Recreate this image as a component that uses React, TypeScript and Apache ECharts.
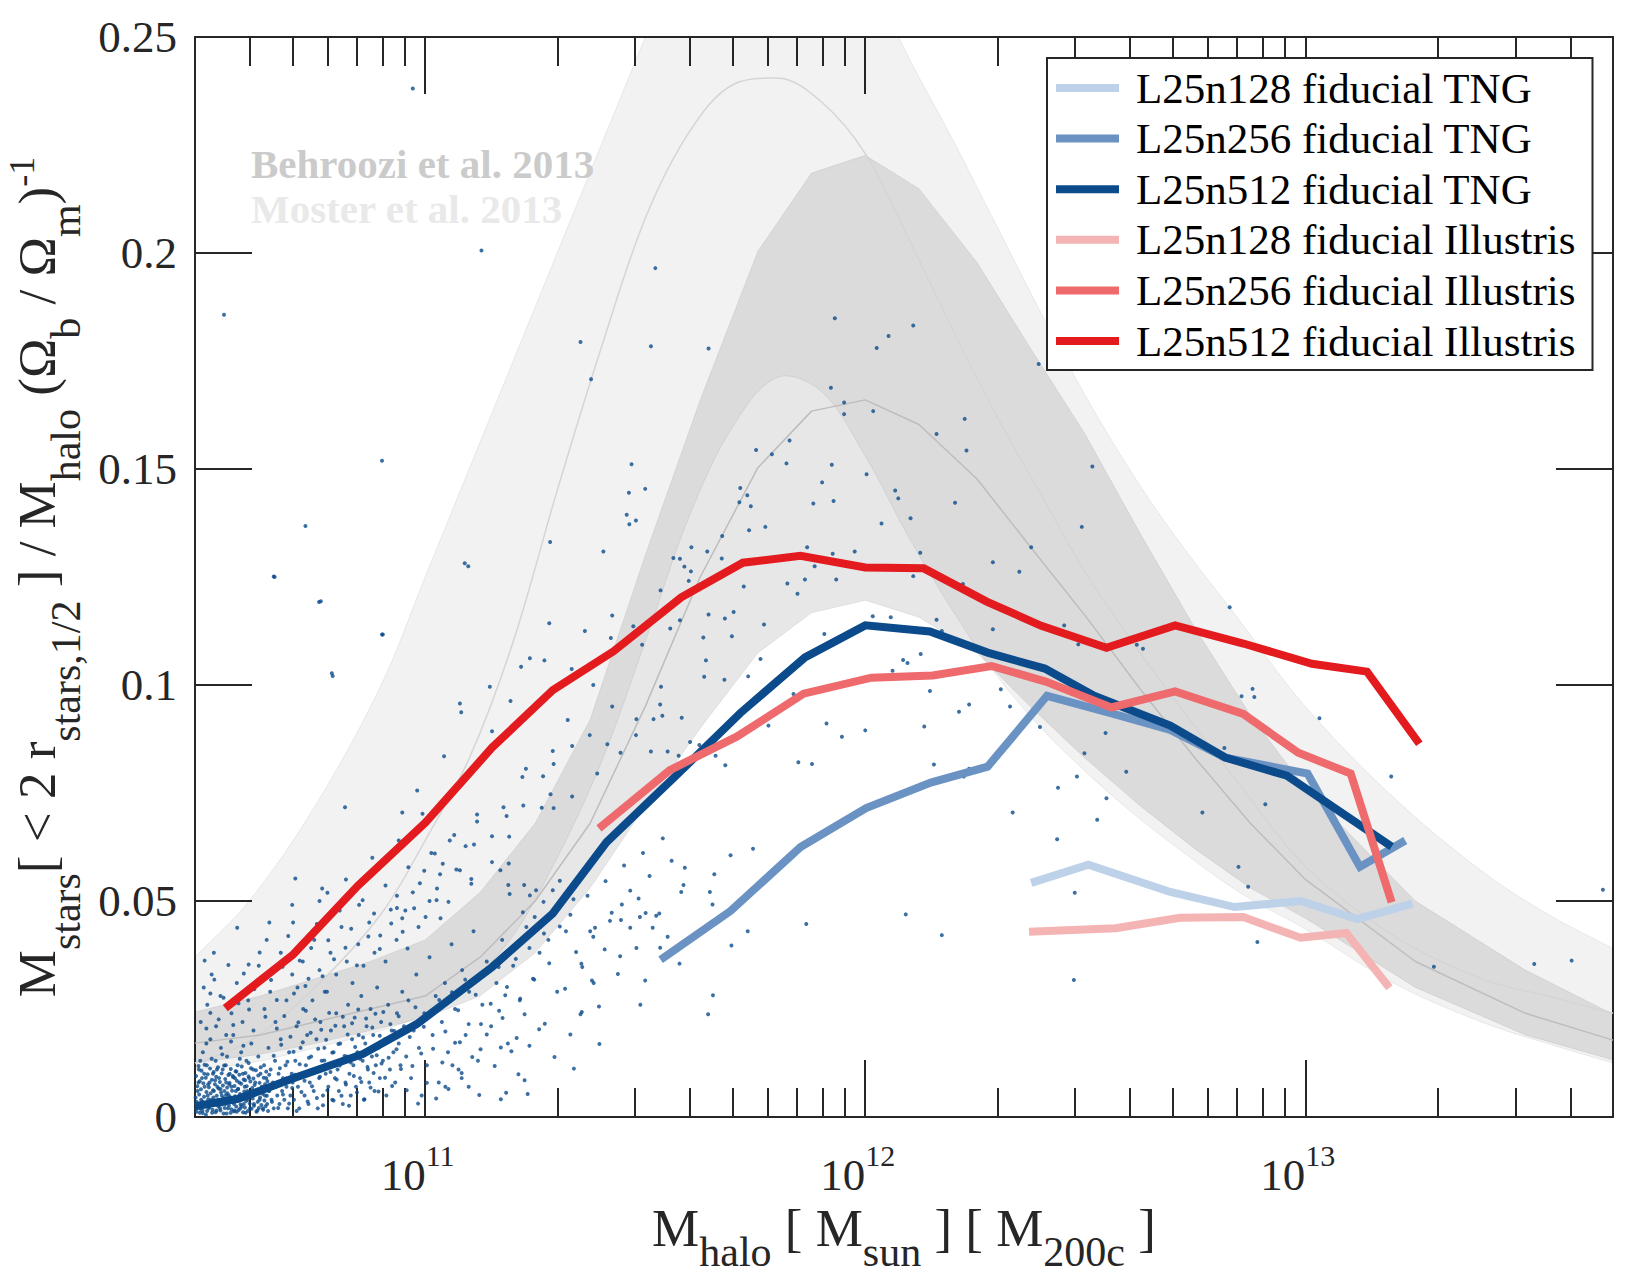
import React, { useEffect, useRef } from "react";
import * as echarts from "echarts";

const FONT = "'Liberation Serif', 'Times New Roman', Times, serif";
const INK = "#262626";

// ---------- axes ----------
const xMin = 3e10;
const xMax = 5e13;
const yMin = 0;
const yMax = 0.25;
const yStep = 0.05;
const xMajorTicks = [1e11, 1e12, 1e13];
const xMinorTicks = [
  4e10, 5e10, 6e10, 7e10, 8e10, 9e10,
  2e11, 3e11, 4e11, 5e11, 6e11, 7e11, 8e11, 9e11,
  2e12, 3e12, 4e12, 5e12, 6e12, 7e12, 8e12, 9e12,
  2e13, 3e13, 4e13,
];

// ---------- Moster et al. 2013 band (x = log10 M_halo) ----------
const mosterLogM = [10.477, 10.6, 10.75, 10.9, 11.0, 11.1, 11.2, 11.3, 11.4, 11.5, 11.6, 11.7, 11.8, 11.9, 12.0, 12.1, 12.2, 12.3, 12.4, 12.5, 12.6, 12.7, 12.85, 13.0, 13.2, 13.4, 13.55, 13.699];
const mosterUpper = [0.037, 0.05, 0.072, 0.1, 0.125, 0.15, 0.175, 0.2, 0.225, 0.25, 0.276, 0.29, 0.294, 0.285, 0.266, 0.245, 0.226, 0.206, 0.186, 0.167, 0.15, 0.135, 0.115, 0.095, 0.074, 0.057, 0.047, 0.039];
const mosterMedian = [0.0125, 0.0175, 0.03, 0.047, 0.064, 0.083, 0.11, 0.145, 0.178, 0.208, 0.228, 0.239, 0.2405, 0.235, 0.223, 0.203, 0.182, 0.162, 0.144, 0.126, 0.111, 0.097, 0.077, 0.058, 0.042, 0.032, 0.028, 0.024];
const mosterLower = [0.011, 0.0125, 0.016, 0.02, 0.024, 0.031, 0.042, 0.06, 0.082, 0.11, 0.139, 0.16, 0.1712, 0.168, 0.153, 0.134, 0.117, 0.102, 0.09, 0.08, 0.071, 0.063, 0.052, 0.0435, 0.031, 0.022, 0.017, 0.0125];

// ---------- Behroozi et al. 2013 band ----------
const behrooziLogM = [10.477, 10.625, 10.75, 10.875, 11.0, 11.125, 11.25, 11.375, 11.5, 11.625, 11.756, 11.878, 12.0, 12.122, 12.254, 12.375, 12.5, 12.625, 12.75, 12.875, 13.0, 13.25, 13.5, 13.699];
const behrooziUpper = [0.0243, 0.028, 0.032, 0.036, 0.041, 0.052, 0.068, 0.092, 0.13, 0.166, 0.2004, 0.2185, 0.2226, 0.2149, 0.1978, 0.178, 0.158, 0.135, 0.113, 0.093, 0.076, 0.05, 0.034, 0.0238];
const behrooziMedian = [0.0171, 0.019, 0.022, 0.025, 0.028, 0.037, 0.05, 0.068, 0.095, 0.125, 0.1503, 0.1634, 0.166, 0.1603, 0.1477, 0.132, 0.116, 0.099, 0.083, 0.068, 0.055, 0.036, 0.024, 0.0178];
const behrooziLower = [0.0125, 0.0145, 0.017, 0.02, 0.023, 0.028, 0.038, 0.053, 0.072, 0.09, 0.1074, 0.1167, 0.1196, 0.1157, 0.1074, 0.095, 0.083, 0.072, 0.062, 0.053, 0.046, 0.03, 0.019, 0.0132];

// ---------- simulation curves ----------
const tng128LogM = [12.377, 12.507, 12.693, 12.839, 12.989, 13.118, 13.243];
const tng128Frac = [0.0542, 0.0584, 0.0521, 0.0486, 0.05, 0.0458, 0.0494];
const tng256LogM = [11.535, 11.694, 11.853, 12.002, 12.149, 12.278, 12.413, 12.564, 12.693, 12.818, 13.005, 13.124, 13.227];
const tng256Frac = [0.0364, 0.0477, 0.0625, 0.0715, 0.0774, 0.0811, 0.0975, 0.0933, 0.0896, 0.0832, 0.0795, 0.0579, 0.064];
const tng512LogM = [10.477, 10.575, 10.696, 10.859, 10.981, 11.152, 11.29, 11.412, 11.57, 11.716, 11.863, 12.0, 12.147, 12.278, 12.408, 12.52, 12.693, 12.818, 12.958, 13.196];
const tng512Frac = [0.0025, 0.0042, 0.0088, 0.0146, 0.0215, 0.0347, 0.0471, 0.0636, 0.079, 0.0935, 0.1064, 0.1138, 0.1124, 0.1075, 0.1038, 0.0975, 0.0906, 0.0832, 0.079, 0.0626];
const ill128LogM = [12.372, 12.569, 12.715, 12.859, 12.989, 13.093, 13.191];
const ill128Frac = [0.0429, 0.0437, 0.0461, 0.0463, 0.0415, 0.0426, 0.0299];
const ill256LogM = [11.395, 11.556, 11.709, 11.86, 12.014, 12.153, 12.287, 12.41, 12.559, 12.704, 12.859, 12.984, 13.103, 13.196];
const ill256Frac = [0.0668, 0.0803, 0.0881, 0.098, 0.1017, 0.1022, 0.1044, 0.1008, 0.0948, 0.0985, 0.0933, 0.0843, 0.0795, 0.0497];
const ill512LogM = [10.546, 10.7, 10.847, 11.001, 11.152, 11.29, 11.428, 11.582, 11.722, 11.853, 12.0, 12.133, 12.276, 12.4, 12.548, 12.704, 12.859, 13.015, 13.14, 13.259];
const ill512Frac = [0.0252, 0.0376, 0.0535, 0.0682, 0.0855, 0.0988, 0.1078, 0.1203, 0.1283, 0.1299, 0.1272, 0.127, 0.1193, 0.1137, 0.1086, 0.1138, 0.1096, 0.1049, 0.1031, 0.0864];

const seriesNames = [
  "L25n128 fiducial TNG",
  "L25n256 fiducial TNG",
  "L25n512 fiducial TNG",
  "L25n128 fiducial Illustris",
  "L25n256 fiducial Illustris",
  "L25n512 fiducial Illustris",
];
const seriesColors = ["#bdd1e8", "#6a93c3", "#0b4b8b", "#f5b4b4", "#ee6a6c", "#e31b1f"];

// ---------- individual L25n512 TNG haloes [log10 M_halo, fraction] ----------
const haloSparse = [
  [10.972, 0.2381], [10.543, 0.1857], [11.128, 0.2006], [11.353, 0.1794], [11.513, 0.1784], [11.523, 0.1965], [10.902, 0.1519], [10.728, 0.1368], [10.656, 0.1251], [10.759, 0.1192], [10.788, 0.1027], [10.902, 0.1117], [11.09, 0.1282],
  [11.644, 0.1779], [11.377, 0.1708], [11.931, 0.1849], [12.053, 0.1808], [12.026, 0.178], [12.109, 0.1832], [12.394, 0.1743], [11.922, 0.1688], [11.952, 0.1654], [11.952, 0.1627], [12.018, 0.1634], [12.226, 0.1616], [12.162, 0.1581], [12.23, 0.1543], [11.752, 0.1544], [11.788, 0.1534], [11.828, 0.1566], [11.821, 0.1513], [11.924, 0.151], [11.902, 0.1469], [12.003, 0.1488], [11.882, 0.142], [11.928, 0.1426], [12.068, 0.145], [12.075, 0.1432], [12.204, 0.1422], [12.103, 0.1386], [12.037, 0.1374], [11.716, 0.1456], [11.732, 0.1439], [11.714, 0.1423], [11.74, 0.1414], [11.736, 0.1358], [11.773, 0.1366], [11.675, 0.1345], [12.377, 0.1319], [12.35, 0.1262], [12.29, 0.1284], [12.125, 0.1306], [11.976, 0.1309], [11.926, 0.1304], [11.868, 0.1319], [11.885, 0.1275], [11.934, 0.1244], [11.863, 0.1244], [11.823, 0.1235], [11.846, 0.1211], [12.109, 0.1252], [12.222, 0.1234], [11.605, 0.1319], [11.564, 0.1294], [11.579, 0.1292], [11.589, 0.1274], [11.604, 0.1263], [11.599, 0.1241], [11.641, 0.1309], [11.674, 0.1293], [11.724, 0.1228], [11.535, 0.1219], [11.469, 0.1511], [11.463, 0.1445], [11.5, 0.1454], [11.458, 0.1394], [11.464, 0.1372], [11.479, 0.1381], [11.284, 0.1331], [11.405, 0.1309], [11.098, 0.1275], [11.425, 0.1161], [11.644, 0.1163], [11.681, 0.1154], [11.701, 0.1169], [11.557, 0.1131], [11.579, 0.115], [11.493, 0.1093], [11.638, 0.1057], [11.632, 0.111], [11.697, 0.1113], [11.77, 0.114], [11.473, 0.1136], [11.422, 0.1109], [11.363, 0.1125], [11.282, 0.1143], [11.238, 0.1062], [11.218, 0.1042], [11.271, 0.1057], [11.333, 0.1037], [11.382, 0.1], [11.147, 0.0996], [11.194, 0.0963], [11.079, 0.0957], [11.082, 0.0937], [11.324, 0.0919], [11.152, 0.0893], [11.425, 0.095], [11.536, 0.0996], [11.534, 0.0955], [11.539, 0.0929], [11.48, 0.0921], [11.519, 0.0921], [11.583, 0.0924], [11.762, 0.106], [11.734, 0.102], [11.837, 0.0979], [11.907, 0.1118], [12.062, 0.1033], [12.086, 0.1058], [12.147, 0.0986], [12.213, 0.0938], [12.236, 0.0955], [12.329, 0.095], [12.308, 0.099], [12.162, 0.1151], [12.174, 0.1125], [12.29, 0.1129], [12.058, 0.1157], [12.017, 0.1159], [12.126, 0.1072], [11.912, 0.0911], [12.0, 0.0895], [12.134, 0.0904], [12.397, 0.0903], [12.492, 0.1366], [12.516, 0.1506], [12.452, 0.1138],
  [12.096, 0.1051], [12.484, 0.1094], [12.631, 0.1084], [12.617, 0.1093], [12.546, 0.0889], [12.855, 0.0974], [12.88, 0.0991], [12.884, 0.0972], [12.828, 0.118], [13.032, 0.0923], [12.816, 0.0854], [12.498, 0.0842], [12.156, 0.0816], [12.236, 0.0806], [12.224, 0.0788], [12.481, 0.0788], [12.593, 0.0799], [13.195, 0.0788], [12.438, 0.0762], [12.909, 0.0724], [12.548, 0.0738], [12.335, 0.0705], [12.527, 0.0688], [12.766, 0.0705], [12.436, 0.0643], [12.848, 0.0579], [12.87, 0.0533], [13.133, 0.0584], [12.476, 0.0519], [12.092, 0.0469], [12.174, 0.0421], [12.891, 0.0405], [13.292, 0.0348], [13.52, 0.0354], [13.605, 0.0362], [13.676, 0.0526], [12.474, 0.0317],
  [10.658, 0.125], [10.763, 0.1194], [10.904, 0.1117], [10.79, 0.1021], [10.818, 0.0717], [10.705, 0.0552], [10.698, 0.0491], [10.646, 0.045], [10.573, 0.0438], [10.499, 0.0362], [10.512, 0.0286], [10.599, 0.0353], [10.766, 0.0529], [10.778, 0.0519], [10.85, 0.0491], [10.936, 0.0484], [10.955, 0.0478], [10.982, 0.0756], [10.948, 0.0705], [10.994, 0.0702], [11.043, 0.0835], [11.68, 0.1012], [11.634, 0.1019], [11.479, 0.0884], [11.374, 0.0884], [11.444, 0.0843], [11.513, 0.0846], [11.576, 0.0836], [11.602, 0.0868], [11.623, 0.0861], [11.66, 0.0836], [11.682, 0.0814], [11.391, 0.0795], [11.292, 0.0817], [11.268, 0.0789], [11.221, 0.0787], [11.229, 0.0806], [11.29, 0.0847], [11.334, 0.0859], [11.334, 0.0742], [11.285, 0.0747], [11.292, 0.0715], [11.265, 0.0716], [11.223, 0.0721], [11.178, 0.0717], [11.185, 0.0697], [11.118, 0.07], [11.152, 0.065], [11.191, 0.0649], [11.056, 0.064], [11.111, 0.0631], [11.071, 0.0573], [11.034, 0.0562], [11.026, 0.0502], [11.105, 0.054], [11.152, 0.059], [11.19, 0.0587], [11.171, 0.0571], [11.189, 0.0537], [11.192, 0.0516], [11.225, 0.0537], [11.238, 0.0513], [11.252, 0.0525], [11.222, 0.0474], [11.249, 0.0463], [11.269, 0.0498], [11.29, 0.0525], [11.306, 0.0547], [11.337, 0.0504], [11.29, 0.047], [11.375, 0.043], [11.42, 0.0454], [11.445, 0.0456], [11.488, 0.0463], [11.532, 0.0471], [11.466, 0.0438], [11.517, 0.0438], [11.443, 0.0372], [11.408, 0.0388], [11.355, 0.0355], [11.379, 0.0316], [11.395, 0.0256], [11.353, 0.0238], [11.33, 0.0191], [11.338, 0.0112], [11.272, 0.0216], [11.226, 0.0238], [11.237, 0.0165], [11.208, 0.0183], [11.172, 0.0161], [11.182, 0.0282], [11.168, 0.0246], [11.212, 0.0099], [11.184, 0.0056], [11.172, 0.0041], [11.233, 0.0053], [11.126, 0.0157], [11.099, 0.007], [11.083, 0.009], [11.046, 0.007], [11.062, 0.012], [11.079, 0.0173], [11.127, 0.0215], [11.489, 0.026], [11.5, 0.0316], [11.578, 0.0355], [11.654, 0.0282], [11.551, 0.0417], [11.59, 0.0577], [11.582, 0.0521], [11.653, 0.0492], [11.696, 0.0397], [11.733, 0.043], [11.643, 0.0238], [11.745, 0.0621], [11.694, 0.0606], [11.647, 0.0521], [11.657, 0.0562], [11.587, 0.0537], [11.534, 0.0392], [11.447, 0.0492], [11.485, 0.0506], [11.501, 0.0472], [11.386, 0.0438], [11.357, 0.0347], [11.383, 0.031],
  [11.866, 0.0447], [11.414, 0.0863], [11.551, 0.0846], [11.643, 0.0855], [11.78, 0.0906], [11.848, 0.0821], [11.879, 0.0817], [11.947, 0.088],
];

// dense cloud of low-mass haloes (lower left)
const haloCloud = [
  [10.48, 0.002], [10.483, 0.006], [10.486, 0.011], [10.488, 0.001], [10.491, 0.004], [10.493, 0.009], [10.495, 0.015], [10.497, 0.003], [10.499, 0.007], [10.502, 0.0005], [10.504, 0.012], [10.506, 0.005], [10.508, 0.002], [10.51, 0.008], [10.512, 0.018], [10.514, 0.004], [10.516, 0.001], [10.518, 0.01], [10.52, 0.006], [10.522, 0.003], [10.524, 0.013], [10.526, 0.0015], [10.528, 0.007], [10.53, 0.004], [10.532, 0.009], [10.534, 0.002], [10.536, 0.016], [10.538, 0.005], [10.54, 0.011], [10.542, 0.0008], [10.544, 0.006], [10.546, 0.003], [10.548, 0.008], [10.55, 0.014], [10.552, 0.002], [10.554, 0.005], [10.556, 0.01], [10.558, 0.001], [10.56, 0.007], [10.562, 0.004], [10.564, 0.019], [10.566, 0.003], [10.568, 0.009], [10.57, 0.006], [10.572, 0.0012], [10.574, 0.012], [10.576, 0.004], [10.578, 0.008], [10.58, 0.002], [10.582, 0.015], [10.584, 0.005], [10.586, 0.01], [10.588, 0.003], [10.59, 0.007], [10.592, 0.001], [10.594, 0.013], [10.596, 0.006], [10.598, 0.004], [10.6, 0.009], [10.602, 0.002], [10.605, 0.017], [10.607, 0.005], [10.609, 0.011], [10.611, 0.003], [10.614, 0.008], [10.616, 0.006], [10.619, 0.0015], [10.621, 0.014], [10.624, 0.004], [10.626, 0.01], [10.629, 0.007], [10.631, 0.002], [10.634, 0.012], [10.636, 0.005], [10.639, 0.009], [10.641, 0.003], [10.644, 0.016], [10.646, 0.006], [10.649, 0.011], [10.651, 0.004], [10.654, 0.008], [10.656, 0.002], [10.659, 0.013], [10.661, 0.007], [10.664, 0.005], [10.667, 0.01], [10.669, 0.003], [10.672, 0.018], [10.675, 0.006], [10.677, 0.009], [10.68, 0.004], [10.683, 0.012], [10.685, 0.007], [10.688, 0.002], [10.691, 0.015], [10.694, 0.005], [10.697, 0.01], [10.699, 0.008],
  [10.481, 0.0035], [10.485, 0.008], [10.489, 0.013], [10.494, 0.0015], [10.498, 0.01], [10.503, 0.017], [10.507, 0.0075], [10.511, 0.003], [10.515, 0.0135], [10.519, 0.0045], [10.523, 0.0085], [10.527, 0.011], [10.531, 0.0025], [10.535, 0.0065], [10.539, 0.0145], [10.543, 0.0035], [10.547, 0.012], [10.551, 0.0055], [10.555, 0.0075], [10.559, 0.0175], [10.563, 0.0095], [10.567, 0.0015], [10.571, 0.0105], [10.575, 0.0065], [10.579, 0.0135], [10.583, 0.0025], [10.587, 0.0165], [10.591, 0.0085], [10.595, 0.0045], [10.599, 0.0125],
  [10.702, 0.004], [10.705, 0.013], [10.708, 0.021], [10.711, 0.007], [10.714, 0.002], [10.717, 0.016], [10.72, 0.01], [10.723, 0.025], [10.726, 0.005], [10.729, 0.012], [10.732, 0.019], [10.735, 0.003], [10.738, 0.008], [10.741, 0.014], [10.744, 0.027], [10.747, 0.006], [10.75, 0.011], [10.753, 0.018], [10.756, 0.002], [10.759, 0.009], [10.762, 0.022], [10.765, 0.013], [10.768, 0.005], [10.771, 0.016], [10.774, 0.01], [10.777, 0.029], [10.78, 0.007], [10.783, 0.012], [10.786, 0.02], [10.789, 0.004], [10.792, 0.015], [10.795, 0.009], [10.798, 0.024], [10.801, 0.011], [10.804, 0.006], [10.807, 0.017], [10.81, 0.013], [10.813, 0.003], [10.816, 0.021], [10.819, 0.008], [10.822, 0.014], [10.825, 0.026], [10.828, 0.01], [10.831, 0.005], [10.834, 0.018], [10.837, 0.012], [10.84, 0.023], [10.843, 0.007], [10.846, 0.015], [10.849, 0.019], [10.852, 0.009], [10.855, 0.028], [10.858, 0.013], [10.861, 0.004], [10.864, 0.017], [10.867, 0.021], [10.87, 0.011], [10.873, 0.008], [10.876, 0.025], [10.879, 0.014], [10.882, 0.019], [10.885, 0.006], [10.888, 0.012], [10.891, 0.03], [10.894, 0.016], [10.897, 0.009], [10.9, 0.022], [10.904, 0.013], [10.908, 0.018], [10.912, 0.005], [10.916, 0.026], [10.92, 0.011], [10.924, 0.02], [10.928, 0.015], [10.932, 0.008], [10.936, 0.024], [10.94, 0.017], [10.944, 0.012], [10.948, 0.029], [10.952, 0.021],
  [10.957, 0.014], [10.962, 0.027], [10.968, 0.009], [10.974, 0.02], [10.98, 0.033], [10.986, 0.016], [10.992, 0.005], [10.998, 0.024], [11.004, 0.012], [11.01, 0.037], [11.017, 0.019], [11.024, 0.028], [11.031, 0.008], [11.038, 0.022], [11.045, 0.031], [11.052, 0.015], [11.06, 0.04], [11.068, 0.025], [11.076, 0.011], [11.084, 0.034], [11.092, 0.019], [11.1, 0.029], [11.11, 0.043], [11.12, 0.013], [11.13, 0.026], [11.14, 0.036], [11.15, 0.021], [11.162, 0.031], [11.175, 0.041], [11.188, 0.017], [11.2, 0.035], [11.215, 0.027], [11.23, 0.044], [11.245, 0.032], [11.26, 0.038], [11.28, 0.041], [11.3, 0.029], [11.32, 0.043],
  [10.49, 0.022], [10.497, 0.03], [10.505, 0.026], [10.515, 0.033], [10.525, 0.021], [10.535, 0.028], [10.548, 0.019], [10.56, 0.024], [10.572, 0.031], [10.585, 0.022], [10.598, 0.027], [10.61, 0.02], [10.622, 0.035], [10.635, 0.025], [10.648, 0.029], [10.66, 0.022], [10.672, 0.038], [10.685, 0.027], [10.698, 0.033], [10.71, 0.03], [10.722, 0.036], [10.735, 0.032], [10.748, 0.041], [10.76, 0.034], [10.772, 0.029], [10.785, 0.038], [10.798, 0.033], [10.81, 0.044], [10.822, 0.036], [10.835, 0.031], [10.848, 0.04], [10.86, 0.035], [10.873, 0.045], [10.885, 0.038], [10.898, 0.042], [10.91, 0.036], [10.922, 0.048], [10.935, 0.041], [10.948, 0.046], [10.96, 0.039], [10.972, 0.052], [10.985, 0.044], [10.998, 0.057], [11.01, 0.05], [11.022, 0.061], [11.035, 0.046], [10.64, 0.041], [10.7, 0.045], [10.76, 0.05], [10.82, 0.055], [10.88, 0.06], [10.94, 0.064], [10.52, 0.038],
];

// the densest part of the cloud, right at the low-mass edge
const haloCore = [
  [10.4785, 0.0045], [10.4795, 0.0095], [10.4805, 0.0012], [10.4822, 0.0071], [10.4838, 0.0028], [10.4851, 0.0118], [10.4867, 0.0052], [10.4879, 0.0083], [10.4893, 0.0019], [10.4906, 0.0064], [10.4921, 0.0107], [10.4935, 0.0036], [10.4948, 0.0009], [10.4962, 0.0078], [10.4977, 0.0047], [10.4989, 0.0121], [10.5004, 0.0025], [10.5017, 0.0091], [10.5031, 0.0058], [10.5046, 0.0014], [10.5058, 0.0099], [10.5072, 0.0041], [10.5087, 0.0069], [10.5099, 0.0023], [10.5113, 0.0112], [10.5128, 0.0055], [10.5141, 0.0031], [10.5155, 0.0086], [10.5169, 0.0017], [10.5182, 0.0062], [10.5196, 0.0104], [10.5211, 0.0038], [10.5224, 0.0076], [10.5238, 0.0011], [10.5252, 0.0093], [10.5265, 0.0049], [10.5279, 0.0027], [10.5294, 0.0115], [10.5307, 0.0066], [10.5321, 0.0033], [10.5336, 0.0081], [10.5349, 0.0015], [10.5362, 0.0057], [10.5377, 0.0101], [10.5391, 0.0029], [10.5404, 0.0073], [10.5418, 0.0044], [10.5433, 0.0119], [10.5446, 0.0021], [10.5459, 0.0088], [10.5474, 0.0051], [10.5488, 0.0008], [10.5501, 0.0068], [10.5515, 0.0036], [10.553, 0.0097], [10.5543, 0.0026], [10.5557, 0.0079], [10.5571, 0.0046], [10.5584, 0.0111], [10.5598, 0.0018], [10.5613, 0.0061], [10.5626, 0.0034], [10.564, 0.0092], [10.5655, 0.0013], [10.5668, 0.0072], [10.5682, 0.0048], [10.5696, 0.0106], [10.5709, 0.0024], [10.5723, 0.0084], [10.5738, 0.0039], [10.5751, 0.0065], [10.5765, 0.0016], [10.578, 0.0098], [10.5793, 0.0053], [10.5807, 0.0029], [10.5821, 0.0077], [10.5834, 0.0117], [10.5848, 0.0042], [10.5863, 0.0011], [10.5876, 0.0087], [10.589, 0.0059], [10.5904, 0.0022], [10.5917, 0.0102], [10.5931, 0.0037], [10.5946, 0.0071], [10.5959, 0.0047], [10.5973, 0.0014], [10.5988, 0.0094], [10.6001, 0.0056], [10.6015, 0.0031], [10.6029, 0.0082], [10.6042, 0.0113], [10.6056, 0.0019], [10.6071, 0.0067], [10.6084, 0.0043], [10.6098, 0.0089], [10.6112, 0.0026], [10.6125, 0.0074], [10.614, 0.0052], [10.6154, 0.0108], [10.6167, 0.0012], [10.6181, 0.0063], [10.6196, 0.0035], [10.6209, 0.0096], [10.6223, 0.0021], [10.6237, 0.0079], [10.625, 0.0045], [10.6265, 0.0115], [10.6279, 0.0028], [10.6292, 0.0069], [10.6306, 0.0054], [10.632, 0.0017], [10.6333, 0.0091], [10.6348, 0.0038], [10.6362, 0.0076], [10.6375, 0.0025], [10.6389, 0.0105], [10.6404, 0.0049], [10.6417, 0.0083], [10.6431, 0.0014], [10.6445, 0.0061], [10.6458, 0.0098],
  [10.652, 0.0035], [10.656, 0.0142], [10.659, 0.0078], [10.663, 0.0205], [10.666, 0.0021], [10.67, 0.0113], [10.673, 0.0167], [10.677, 0.0052], [10.68, 0.0234], [10.684, 0.0089], [10.687, 0.0128], [10.691, 0.0031], [10.694, 0.0186], [10.698, 0.0067], [10.701, 0.0151], [10.705, 0.0098], [10.708, 0.0014], [10.712, 0.0219], [10.715, 0.0122], [10.719, 0.0058], [10.722, 0.0173], [10.726, 0.0084], [10.729, 0.0246], [10.733, 0.0036], [10.736, 0.0137], [10.74, 0.0195], [10.743, 0.0071], [10.747, 0.0109], [10.75, 0.0226], [10.754, 0.0044], [10.757, 0.0158], [10.761, 0.0093], [10.764, 0.0202], [10.768, 0.0027], [10.771, 0.0131], [10.775, 0.0179], [10.778, 0.0062], [10.782, 0.0241], [10.785, 0.0104], [10.789, 0.0149], [10.792, 0.0038], [10.796, 0.0211], [10.799, 0.0087], [10.803, 0.0169], [10.806, 0.0119], [10.81, 0.0049], [10.813, 0.0232], [10.817, 0.0141], [10.82, 0.0075], [10.824, 0.0191], [10.827, 0.0026], [10.831, 0.0126], [10.834, 0.0217], [10.838, 0.0095], [10.841, 0.0162], [10.845, 0.0057], [10.848, 0.0249], [10.852, 0.0135], [10.855, 0.0081], [10.859, 0.0184], [10.862, 0.0041], [10.866, 0.0228], [10.869, 0.0116], [10.873, 0.0155], [10.876, 0.0068], [10.88, 0.0207], [10.883, 0.0102], [10.887, 0.0239], [10.89, 0.0143], [10.894, 0.0059], [10.897, 0.0188], [10.901, 0.0124], [10.905, 0.0243], [10.909, 0.0091], [10.913, 0.0176], [10.917, 0.0137], [10.921, 0.0215], [10.925, 0.0072], [10.93, 0.0199], [10.935, 0.0157], [10.94, 0.0233], [10.945, 0.0111],
  [10.958, 0.0062], [10.965, 0.0185], [10.971, 0.0118], [10.978, 0.0254], [10.984, 0.0031], [10.991, 0.0147], [10.997, 0.0209], [11.004, 0.0079], [11.011, 0.0236], [11.018, 0.0158], [11.025, 0.0043], [11.032, 0.0271], [11.039, 0.0126], [11.046, 0.0198], [11.053, 0.0065], [11.061, 0.0289], [11.068, 0.0172], [11.075, 0.0247], [11.083, 0.0102], [11.091, 0.0318], [11.099, 0.0215], [11.107, 0.0139], [11.115, 0.0283], [11.123, 0.0051], [11.131, 0.0332], [11.14, 0.0191], [11.149, 0.0262], [11.158, 0.0118], [11.167, 0.0347], [11.176, 0.0229], [11.186, 0.0301], [11.196, 0.0152], [11.206, 0.0366], [11.216, 0.0274], [11.226, 0.0085], [11.237, 0.0391], [11.248, 0.0318], [11.259, 0.0203], [11.27, 0.0425], [11.282, 0.0356], [11.294, 0.0139], [11.306, 0.0441], [11.318, 0.0297], [11.33, 0.0468], [11.343, 0.0382], [11.356, 0.0243], [11.369, 0.0512], [11.382, 0.0417], [11.396, 0.0169], [11.41, 0.0546], [11.424, 0.0473], [11.438, 0.0331], [11.452, 0.0582], [11.466, 0.0524], [11.48, 0.0391], [11.495, 0.0611], [11.51, 0.0558], [11.525, 0.0466], [11.54, 0.0645], [11.56, 0.0593],
  [10.503, 0.0205], [10.512, 0.0241], [10.521, 0.0318], [10.531, 0.0226], [10.542, 0.0276], [10.553, 0.0352], [10.564, 0.0213], [10.576, 0.0263], [10.588, 0.0332], [10.6, 0.0249], [10.612, 0.0296], [10.624, 0.0381], [10.637, 0.0232], [10.65, 0.0317], [10.663, 0.0271], [10.676, 0.0348], [10.689, 0.0419], [10.702, 0.0286], [10.715, 0.0362], [10.728, 0.0303], [10.741, 0.0391], [10.754, 0.0447], [10.767, 0.0326], [10.78, 0.0409], [10.793, 0.0365], [10.806, 0.0478], [10.819, 0.0392], [10.832, 0.0436], [10.845, 0.0351], [10.858, 0.0502], [10.871, 0.0418], [10.884, 0.0471], [10.897, 0.0389], [10.91, 0.0536], [10.923, 0.0448], [10.936, 0.0512], [10.949, 0.0429], [10.962, 0.0578], [10.975, 0.0483], [10.988, 0.0541], [11.001, 0.0463], [11.014, 0.0611], [11.027, 0.0529], [11.04, 0.0586], [11.053, 0.0498], [11.066, 0.0653], [11.079, 0.0571], [11.092, 0.0627], [11.105, 0.0551], [11.118, 0.0684],
];

const toXY = (lx: number[], v: number[]) => lx.map((x, i) => [Math.pow(10, x), v[i]]);

function bandSeries(lx: number[], upper: number[], lower: number[], fill: string, smooth: number) {
  return {
    type: "custom",
    coordinateSystem: "cartesian2d",
    silent: true,
    clip: true,
    z: 1,
    data: lx.map((x, i) => [Math.pow(10, x), lower[i], upper[i]]),
    encode: { x: 0, y: [1, 2] },
    renderItem: (params: any, api: any) => {
      if (params.dataIndex !== 0) return null;
      const top = lx.map((x, i) => api.coord([Math.pow(10, x), upper[i]]));
      const bot = lx.map((x, i) => api.coord([Math.pow(10, x), lower[i]])).reverse();
      const points = smooth
        ? [top[0], ...top, top[top.length - 1], bot[0], ...bot, bot[bot.length - 1]]
        : [...top, ...bot];
      return {
        type: "polygon",
        shape: { points, smooth },
        style: { fill, stroke: "rgba(0,0,0,0.07)", lineWidth: 1 },
      };
    },
  };
}

function simLine(idx: number, lx: number[], v: number[]) {
  const color = seriesColors[idx];
  return {
    type: "line",
    name: seriesNames[idx],
    data: toXY(lx, v),
    symbol: "none",
    color,
    itemStyle: { color },
    lineStyle: { color, width: 8, join: "miter" },
    silent: true,
    z: 10 + idx,
  };
}

const yName =
  "{m|M}{s|stars}{m|[ < 2 r}{s|stars,1/2}{m| ] / M}{s|halo}{m| (Ω}{s|b}{m| / Ω}{s|m}{m|)}{p|-1}";
const xName = "{m|M}{s|halo}{m| [ M}{s|sun}{m| ] [ M}{s|200c}{m| ]}";

function buildOption() {
  const xTickAxis = (position: string, tickValues: number[], length: number, showLine: boolean) => ({
    type: "log",
    logBase: 10,
    min: xMin,
    max: xMax,
    position,
    axisLine: { show: showLine, onZero: false, lineStyle: { color: INK, width: 2 } },
    axisTick: { show: true, inside: true, length, customValues: tickValues, lineStyle: { color: INK, width: 2 } },
    axisLabel: { show: false },
    splitLine: { show: false },
    minorTick: { show: false },
  });

  return {
    animation: false,
    backgroundColor: "#ffffff",
    textStyle: { fontFamily: FONT },
    grid: { left: 195, top: 37, width: 1418, height: 1080, containLabel: false, outerBoundsMode: "none" },
    legend: {
      data: seriesNames,
      orient: "vertical",
      left: 1047,
      top: 58,
      padding: [8, 17, 7, 9],
      itemGap: 6.6,
      itemWidth: 63,
      itemHeight: 8,
      icon: "rect",
      borderColor: INK,
      borderWidth: 2,
      backgroundColor: "#ffffff",
      selectedMode: false,
      textStyle: { fontFamily: FONT, fontSize: 43, color: "#000000", lineHeight: 44, padding: [0, 0, 0, 12] },
    },
    xAxis: [
      {
        type: "log",
        logBase: 10,
        min: xMin,
        max: xMax,
        position: "bottom",
        name: xName,
        nameLocation: "middle",
        nameGap: 78,
        nameTextStyle: {
          rich: {
            m: { fontSize: 53, lineHeight: 53, fontFamily: FONT, color: INK, verticalAlign: "top" },
            s: { fontSize: 42, lineHeight: 42, fontFamily: FONT, color: INK, verticalAlign: "top", padding: [29, 0, 0, 0] },
          },
        },
        axisLine: { show: true, onZero: false, lineStyle: { color: INK, width: 2 } },
        axisTick: { show: true, inside: true, length: 57, customValues: xMajorTicks, lineStyle: { color: INK, width: 2 } },
        axisLabel: {
          show: true,
          margin: 23,
          customValues: xMajorTicks,
          formatter: (v: number) => {
            const e = Math.log10(v);
            if (Math.abs(e - Math.round(e)) > 1e-6) return "";
            return `{b|10}{e|${Math.round(e)}}`;
          },
          rich: {
            b: { fontSize: 45, lineHeight: 45, fontFamily: FONT, color: INK, verticalAlign: "top", padding: [12, 0, 0, 0] },
            e: { fontSize: 30, lineHeight: 30, fontFamily: FONT, color: INK, verticalAlign: "top", padding: [0, 15, 0, 0] },
          },
        },
        splitLine: { show: false },
      },
      xTickAxis("bottom", xMinorTicks, 29, false),
      xTickAxis("top", xMajorTicks, 57, true),
      xTickAxis("top", xMinorTicks, 29, false),
    ],
    yAxis: [
      {
        type: "value",
        min: yMin,
        max: yMax,
        interval: yStep,
        position: "left",
        name: yName,
        nameLocation: "middle",
        nameRotate: 90,
        nameGap: 104,
        nameTextStyle: {
          rich: {
            m: { fontSize: 53, lineHeight: 53, fontFamily: FONT, color: INK, verticalAlign: "top", padding: [6, 0, 0, 0] },
            s: { fontSize: 42, lineHeight: 42, fontFamily: FONT, color: INK, verticalAlign: "top", padding: [41, 0, 0, 0] },
            p: { fontSize: 36, lineHeight: 36, fontFamily: FONT, color: INK, verticalAlign: "top" },
          },
        },
        axisLine: { show: true, onZero: false, lineStyle: { color: INK, width: 2 } },
        axisTick: { show: true, inside: true, length: 57, lineStyle: { color: INK, width: 2 } },
        axisLabel: { show: true, margin: 18, fontSize: 45, fontFamily: FONT, color: INK },
        splitLine: { show: false },
      },
      {
        type: "value",
        min: yMin,
        max: yMax,
        interval: yStep,
        position: "right",
        axisLine: { show: true, onZero: false, lineStyle: { color: INK, width: 2 } },
        axisTick: { show: true, inside: true, length: 57, lineStyle: { color: INK, width: 2 } },
        axisLabel: { show: false },
        splitLine: { show: false },
      },
    ],
    graphic: [
      {
        type: "text",
        x: 251,
        y: 164,
        z: 100,
        silent: true,
        style: { text: "Behroozi et al. 2013", fontSize: 41, fontWeight: "bold", fontFamily: FONT, fill: "#cbcbcb", verticalAlign: "middle", align: "left" },
      },
      {
        type: "text",
        x: 251,
        y: 209,
        z: 100,
        silent: true,
        style: { text: "Moster et al. 2013", fontSize: 41, fontWeight: "bold", fontFamily: FONT, fill: "#e9e9e9", verticalAlign: "middle", align: "left" },
      },
    ],
    series: [
      bandSeries(mosterLogM, mosterUpper, mosterLower, "rgba(0,0,0,0.05)", 0.35),
      bandSeries(behrooziLogM, behrooziUpper, behrooziLower, "rgba(0,0,0,0.095)", 0),
      {
        type: "line",
        data: toXY(mosterLogM, mosterMedian),
        smooth: 0.35,
        symbol: "none",
        silent: true,
        lineStyle: { color: "#d5d5d5", width: 1.5 },
        z: 2,
      },
      {
        type: "line",
        data: toXY(behrooziLogM, behrooziMedian),
        symbol: "none",
        silent: true,
        lineStyle: { color: "#bdbdbd", width: 1.5 },
        z: 2,
      },
      {
        type: "scatter",
        data: [...haloCore, ...haloCloud, ...haloSparse].map(([x, v]) => [Math.pow(10, x), v]),
        symbol: "circle",
        symbolSize: 4,
        silent: true,
        itemStyle: { color: "#0b4b8b" },
        z: 3,
      },
      simLine(0, tng128LogM, tng128Frac),
      simLine(1, tng256LogM, tng256Frac),
      simLine(2, tng512LogM, tng512Frac),
      simLine(3, ill128LogM, ill128Frac),
      simLine(4, ill256LogM, ill256Frac),
      simLine(5, ill512LogM, ill512Frac),
    ],
  };
}

export default function App() {
  const ref = useRef<HTMLDivElement>(null);
  useEffect(() => {
    if (!ref.current) return;
    const chart = echarts.init(ref.current, null, { renderer: "svg" });
    chart.setOption(buildOption() as any);
    return () => chart.dispose();
  }, []);
  return (
    <div
      ref={ref}
      style={{ position: "fixed", left: 0, top: 0, width: 1650, height: 1275, background: "#ffffff" }}
    />
  );
}
